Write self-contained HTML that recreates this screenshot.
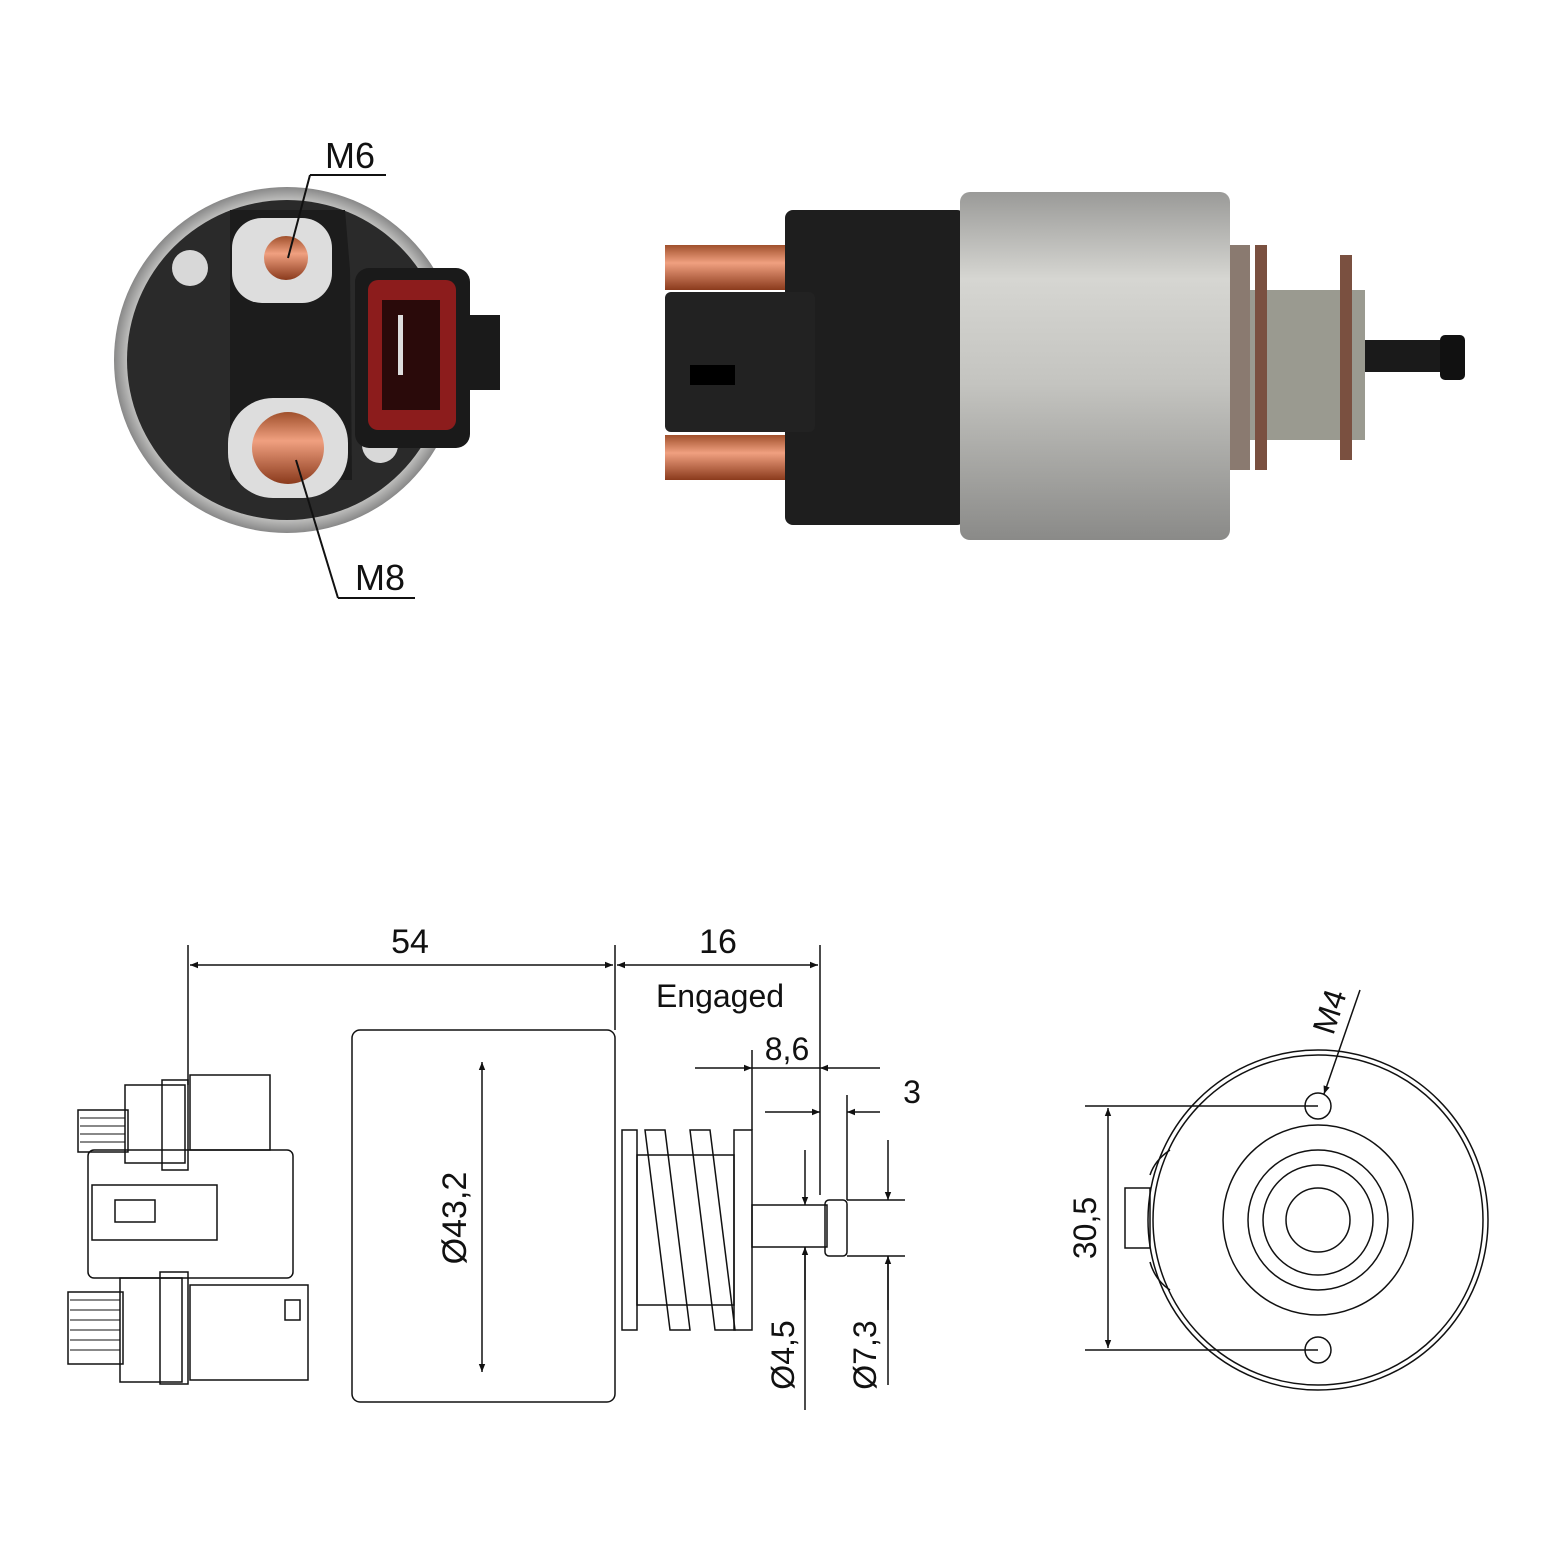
<!DOCTYPE html>
<html><head><meta charset="utf-8"><style>
html,body{margin:0;padding:0;background:#fff}
svg{display:block}
text{font-family:"Liberation Sans",sans-serif;fill:#111}
</style></head><body>
<svg width="1550" height="1550" viewBox="0 0 1550 1550" xmlns="http://www.w3.org/2000/svg">
<defs>
<linearGradient id="sil" x1="0" y1="0" x2="0" y2="1">
<stop offset="0" stop-color="#9a9a98"/><stop offset="0.25" stop-color="#d6d6d2"/><stop offset="0.55" stop-color="#c4c4c0"/><stop offset="1" stop-color="#8a8a88"/></linearGradient>
<linearGradient id="cu" x1="0" y1="0" x2="0" y2="1">
<stop offset="0" stop-color="#a0502c"/><stop offset="0.4" stop-color="#f0a080"/><stop offset="1" stop-color="#8a3a1c"/></linearGradient>
<radialGradient id="rim" cx="0.5" cy="0.5" r="0.5"><stop offset="0.9" stop-color="#cfcfcd"/><stop offset="1" stop-color="#888"/></radialGradient>
<marker id="a" viewBox="0 0 10 10" refX="10" refY="5" markerWidth="14" markerHeight="8" orient="auto-start-reverse" markerUnits="userSpaceOnUse"><path d="M0,1 L10,5 L0,9 z" fill="#111"/></marker>
</defs>

<!-- Top-left end view -->
<circle cx="287" cy="360" r="173" fill="url(#rim)"/>
<circle cx="287" cy="360" r="160" fill="#2a2a2a"/>
<path d="M230 210 L345 210 L350 270 L352 480 L230 480 Z" fill="#1c1c1c"/>
<circle cx="190" cy="268" r="18" fill="#d8d8d8"/>
<circle cx="380" cy="445" r="18" fill="#d8d8d8"/>
<rect x="232" y="218" width="100" height="85" rx="30" fill="#ddd"/>
<circle cx="286" cy="258" r="22" fill="url(#cu)"/>
<rect x="228" y="398" width="120" height="100" rx="45" fill="#ddd"/>
<circle cx="288" cy="448" r="36" fill="url(#cu)"/>
<rect x="355" y="268" width="115" height="180" rx="14" fill="#1a1a1a"/>
<rect x="470" y="315" width="30" height="75" fill="#1a1a1a"/>
<rect x="368" y="280" width="88" height="150" rx="10" fill="#8c1c1c"/>
<rect x="382" y="300" width="58" height="110" fill="#2a0a0a"/>
<rect x="398" y="315" width="5" height="60" fill="#ddd"/>
<line x1="386" y1="175" x2="310" y2="175" stroke="#111" stroke-width="2"/>
<line x1="310" y1="175" x2="288" y2="258" stroke="#111" stroke-width="2"/>
<text x="350" y="168" font-size="36" text-anchor="middle">M6</text>
<line x1="296" y1="460" x2="338" y2="598" stroke="#111" stroke-width="2"/>
<line x1="338" y1="598" x2="415" y2="598" stroke="#111" stroke-width="2"/>
<text x="380" y="590" font-size="36" text-anchor="middle">M8</text>

<!-- Top-right side view -->
<rect x="665" y="245" width="125" height="45" fill="url(#cu)"/>
<rect x="665" y="435" width="125" height="45" fill="url(#cu)"/>
<rect x="785" y="210" width="180" height="315" rx="8" fill="#1e1e1e"/>
<rect x="665" y="292" width="150" height="140" rx="6" fill="#222"/>
<rect x="690" y="365" width="45" height="20" fill="#000"/>
<rect x="960" y="192" width="270" height="348" rx="10" fill="url(#sil)"/>
<rect x="1230" y="245" width="20" height="225" fill="#8a7a70"/>
<rect x="1250" y="290" width="115" height="150" fill="#9a9a90"/>
<rect x="1255" y="245" width="12" height="225" fill="#7a5040"/>
<rect x="1340" y="255" width="12" height="205" fill="#7a5040"/>
<rect x="1365" y="340" width="80" height="32" fill="#1a1a1a"/>
<rect x="1440" y="335" width="25" height="45" rx="5" fill="#111"/>

<!-- Bottom-left drawing -->
<g fill="none" stroke="#111" stroke-width="1.5">
<rect x="78" y="1110" width="50" height="42"/>
<rect x="125" y="1085" width="60" height="78"/>
<rect x="162" y="1080" width="26" height="90"/>
<rect x="190" y="1075" width="80" height="75"/>
<rect x="88" y="1150" width="205" height="128" rx="6"/>
<rect x="92" y="1185" width="125" height="55"/>
<rect x="115" y="1200" width="40" height="22"/>
<rect x="68" y="1292" width="55" height="72"/>
<rect x="120" y="1278" width="62" height="104"/>
<rect x="160" y="1272" width="28" height="112"/>
<rect x="190" y="1285" width="118" height="95"/>
<rect x="285" y="1300" width="15" height="20"/>
<rect x="352" y="1030" width="263" height="372" rx="8"/>
<rect x="622" y="1130" width="15" height="200"/>
<rect x="734" y="1130" width="18" height="200"/>
<rect x="637" y="1155" width="97" height="150"/>
<path d="M645 1130 L665 1130 L690 1330 L670 1330 Z"/>
<path d="M690 1130 L710 1130 L735 1330 L715 1330 Z"/>
<rect x="752" y="1205" width="75" height="42"/>
<rect x="825" y="1200" width="22" height="56" rx="4"/>
<g stroke-width="1">
<path d="M80 1118h45 M80 1126h45 M80 1134h45 M80 1142h45"/>
<path d="M70 1300h50 M70 1310h50 M70 1320h50 M70 1330h50 M70 1340h50 M70 1350h50"/>
</g>
<!-- right end view -->
<circle cx="1318" cy="1220" r="170"/>
<circle cx="1318" cy="1220" r="165"/>
<circle cx="1318" cy="1220" r="95"/>
<circle cx="1318" cy="1220" r="70"/>
<circle cx="1318" cy="1220" r="55"/>
<circle cx="1318" cy="1220" r="32"/>
<circle cx="1318" cy="1106" r="13"/>
<circle cx="1318" cy="1350" r="13"/>
<rect x="1125" y="1188" width="25" height="60"/>
<path d="M1150 1175 Q1155 1160 1170 1150 M1150 1262 Q1155 1280 1170 1290"/>
</g>

<!-- dimension lines -->
<g stroke="#111" stroke-width="1.5" fill="none">
<line x1="188" y1="945" x2="188" y2="1085"/>
<line x1="615" y1="945" x2="615" y2="1030"/>
<line x1="820" y1="945" x2="820" y2="1195"/>
<line x1="752" y1="1050" x2="752" y2="1130"/>
<line x1="847" y1="1095" x2="847" y2="1200"/>
<line x1="190" y1="965" x2="613" y2="965" marker-start="url(#a)" marker-end="url(#a)"/>
<line x1="617" y1="965" x2="818" y2="965" marker-start="url(#a)" marker-end="url(#a)"/>
<line x1="695" y1="1068" x2="752" y2="1068" marker-end="url(#a)"/>
<line x1="880" y1="1068" x2="820" y2="1068" marker-end="url(#a)"/>
<line x1="752" y1="1068" x2="820" y2="1068"/>
<line x1="765" y1="1112" x2="820" y2="1112" marker-end="url(#a)"/>
<line x1="880" y1="1112" x2="847" y2="1112" marker-end="url(#a)"/>
<line x1="482" y1="1062" x2="482" y2="1372" marker-start="url(#a)" marker-end="url(#a)"/>
<line x1="805" y1="1150" x2="805" y2="1205" marker-end="url(#a)"/>
<line x1="805" y1="1300" x2="805" y2="1247" marker-end="url(#a)"/>
<line x1="805" y1="1247" x2="805" y2="1410"/>
<line x1="888" y1="1140" x2="888" y2="1200" marker-end="url(#a)"/>
<line x1="888" y1="1310" x2="888" y2="1256" marker-end="url(#a)"/>
<line x1="888" y1="1256" x2="888" y2="1385"/>
<line x1="847" y1="1200" x2="905" y2="1200"/>
<line x1="847" y1="1256" x2="905" y2="1256"/>
<line x1="1085" y1="1106" x2="1318" y2="1106"/>
<line x1="1085" y1="1350" x2="1318" y2="1350"/>
<line x1="1108" y1="1108" x2="1108" y2="1348" marker-start="url(#a)" marker-end="url(#a)"/>
<line x1="1360" y1="990" x2="1324" y2="1094" marker-end="url(#a)"/>
</g>
<text x="410" y="953" font-size="34" text-anchor="middle">54</text>
<text x="718" y="953" font-size="34" text-anchor="middle">16</text>
<text x="720" y="1007" font-size="32" text-anchor="middle">Engaged</text>
<text x="787" y="1060" font-size="32" text-anchor="middle">8,6</text>
<text x="912" y="1103" font-size="32" text-anchor="middle">3</text>
<text x="0" y="0" font-size="34" text-anchor="middle" transform="translate(466 1218) rotate(-90)">Ø43,2</text>
<text x="0" y="0" font-size="32" text-anchor="middle" transform="translate(794 1355) rotate(-90)">Ø4,5</text>
<text x="0" y="0" font-size="32" text-anchor="middle" transform="translate(876 1355) rotate(-90)">Ø7,3</text>
<text x="0" y="0" font-size="32" text-anchor="middle" transform="translate(1096 1228) rotate(-90)">30,5</text>
<text x="0" y="0" font-size="32" text-anchor="middle" transform="translate(1340 1015) rotate(-72)">M4</text>
</svg>
</body></html>
